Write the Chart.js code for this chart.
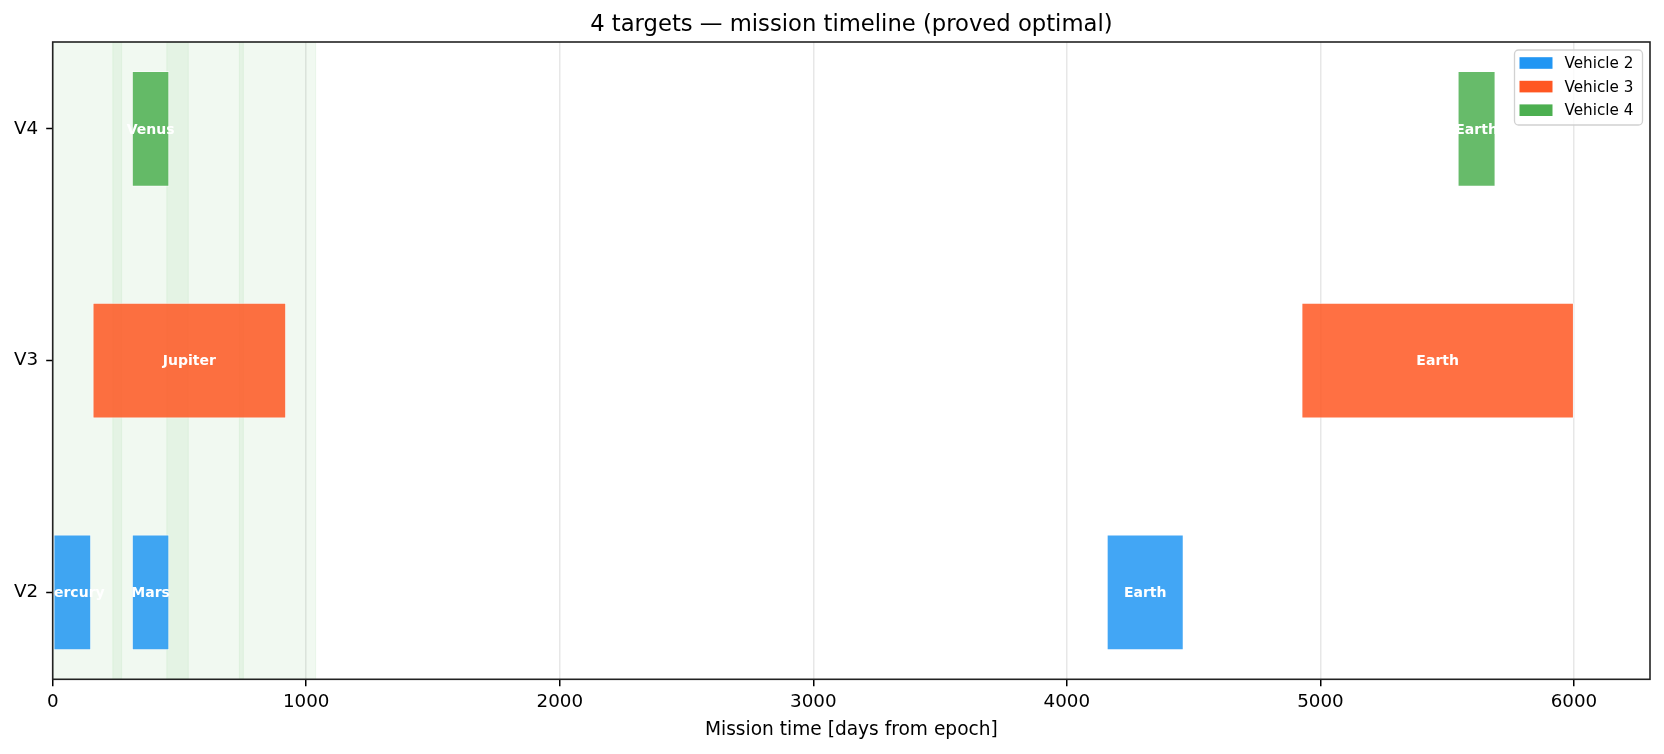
<!DOCTYPE html>
<html>
<head>
<meta charset="utf-8">
<script src="https://cdn.jsdelivr.net/npm/chart.js@4/dist/chart.umd.min.js"></script>
<style>
  html, body { margin: 0; padding: 0; background: #fff; }
  canvas { display: block; }
</style>
</head>
<body>
<canvas id="timeline" width="1664" height="754"></canvas>
<script>
// Rows (bottom to top) and vehicles
const rowLabels = ['V2', 'V3', 'V4'];
const vehicleNames = ['Vehicle 2', 'Vehicle 3', 'Vehicle 4'];
const vehicleColors = ['#2196F3', '#FF5722', '#4CAF50'];

// Visits per vehicle: start / end day and target name
const v2Starts = [0, 312, 4157];
const v2Ends = [152, 460, 4461];
const v2Targets = ['Mercury', 'Mars', 'Earth'];

const v3Starts = [157, 4925];
const v3Ends = [921, 6000];
const v3Targets = ['Jupiter', 'Earth'];

const v4Starts = [312, 5541];
const v4Ends = [460, 5691];
const v4Targets = ['Venus', 'Earth'];

// Launch windows (shaded green spans)
const windowStarts = [0, 237, 450, 736];
const windowEnds = [272, 535, 752, 1037];

// x axis
const xTicks = [0, 1000, 2000, 3000, 4000, 5000, 6000];
const xMax = 6300;

const chartTitle = '4 targets \u2014 mission timeline (proved optimal)';
const FONT = "'DejaVu Sans', 'Liberation Sans', sans-serif";

function toBars(starts, ends, row) {
    return starts.map((s, i) => ({ x: [s, ends[i]], y: row }));
}

function withAlpha(hex, a) {
    const n = parseInt(hex.slice(1), 16);
    return `rgba(${(n >> 16) & 255}, ${(n >> 8) & 255}, ${n & 255}, ${a})`;
}

const rows = [
    { starts: v2Starts, ends: v2Ends, targets: v2Targets },
    { starts: v3Starts, ends: v3Ends, targets: v3Targets },
    { starts: v4Starts, ends: v4Ends, targets: v4Targets }
];

const datasets = rows.map((r, i) => ({
    label: vehicleNames[i],
    data: toBars(r.starts, r.ends, i),
    targets: r.targets,
    backgroundColor: withAlpha(vehicleColors[i], 0.85),
    borderColor: 'rgba(255, 255, 255, 0.55)',
    borderWidth: 1,
    borderSkipped: false,
    grouped: false,
    barPercentage: 0.5,
    categoryPercentage: 1.0
}));

// Shaded windows under the bars
const windowsPlugin = {
    id: 'windows',
    beforeDatasetsDraw(chart) {
        const { ctx, chartArea, scales } = chart;
        ctx.save();
        ctx.beginPath();
        ctx.rect(chartArea.left, chartArea.top, chartArea.width, chartArea.height);
        ctx.clip();
        windowStarts.forEach((s, i) => {
            const x0 = scales.x.getPixelForValue(s);
            const x1 = scales.x.getPixelForValue(windowEnds[i]);
            ctx.fillStyle = withAlpha('#4CAF50', 0.08);
            ctx.fillRect(x0, chartArea.top, x1 - x0, chartArea.height);
            ctx.strokeStyle = withAlpha('#4CAF50', 0.08);
            ctx.lineWidth = 1;
            ctx.strokeRect(x0, chartArea.top, x1 - x0, chartArea.height);
        });
        ctx.restore();
    }
};

// Target names inside the bars
const barLabelsPlugin = {
    id: 'barLabels',
    afterDatasetsDraw(chart) {
        const { ctx, chartArea } = chart;
        ctx.save();
        ctx.beginPath();
        ctx.rect(chartArea.left, chartArea.top, chartArea.width, chartArea.height);
        ctx.clip();
        ctx.fillStyle = '#ffffff';
        ctx.font = `bold 14px ${FONT}`;
        ctx.textAlign = 'center';
        ctx.textBaseline = 'middle';
        chart.data.datasets.forEach((ds, di) => {
            chart.getDatasetMeta(di).data.forEach((bar, i) => {
                const cx = (bar.x + bar.base) / 2;
                ctx.fillText(ds.targets[i], cx, bar.y + 1);
            });
        });
        ctx.restore();
    }
};

// Axes frame, title centred over the axes, and legend box
const frameLegendPlugin = {
    id: 'frameLegend',
    afterDraw(chart) {
        const { ctx, chartArea } = chart;
        ctx.save();
        ctx.strokeStyle = '#222';
        ctx.lineWidth = 1.6;
        ctx.strokeRect(chartArea.left, chartArea.top, chartArea.width, chartArea.height);

        ctx.fillStyle = '#000';
        ctx.font = `22.7px ${FONT}`;
        ctx.textAlign = 'center';
        ctx.textBaseline = 'middle';
        ctx.fillText(chartTitle, (chartArea.left + chartArea.right) / 2, chartArea.top - 17);

        const boxW = 128, boxH = 75;
        const bx = chartArea.right - 7.5 - boxW;
        const by = chartArea.top + 8;
        ctx.beginPath();
        ctx.roundRect(bx, by, boxW, boxH, 4);
        ctx.fillStyle = 'rgba(255, 255, 255, 0.8)';
        ctx.fill();
        ctx.strokeStyle = 'rgba(204, 204, 204, 0.9)';
        ctx.lineWidth = 1.3;
        ctx.stroke();

        ctx.font = `15.2px ${FONT}`;
        ctx.textAlign = 'left';
        ctx.textBaseline = 'middle';
        vehicleNames.forEach((name, i) => {
            const cy = by + 13 + i * 23.6;
            ctx.fillStyle = vehicleColors[i];
            ctx.fillRect(bx + 5, cy - 5.8, 33, 11.6);
            ctx.fillStyle = '#000';
            ctx.fillText(name, bx + 50, cy + 1);
        });
        ctx.restore();
    }
};

new Chart(document.getElementById('timeline'), {
    type: 'bar',
    data: { datasets },
    plugins: [windowsPlugin, barLabelsPlugin, frameLegendPlugin],
    options: {
        indexAxis: 'y',
        responsive: false,
        devicePixelRatio: 1,
        animation: false,
        layout: { padding: { left: 0, right: 14, top: 42, bottom: 0 } },
        plugins: {
            legend: { display: false },
            tooltip: { enabled: false },
            title: { display: false }
        },
        scales: {
            x: {
                type: 'linear',
                min: 0,
                max: xMax,
                offset: false,
                border: { display: false },
                afterBuildTicks(scale) {
                    scale.ticks = xTicks.map(v => ({ value: v }));
                },
                grid: {
                    offset: false,
                    color: 'rgba(176, 176, 176, 0.3)',
                    lineWidth: 1.5,
                    tickColor: '#000',
                    tickLength: 7,
                    tickWidth: 1.5
                },
                ticks: {
                    color: '#000',
                    padding: 5,
                    autoSkip: false,
                    maxRotation: 0,
                    font: { family: FONT, size: 18.3 },
                    callback: (v) => String(v)
                },
                title: {
                    display: true,
                    text: 'Mission time [days from epoch]',
                    color: '#000',
                    font: { family: FONT, size: 18.6, lineHeight: 1.2 },
                    padding: { top: 0, bottom: 12.5 }
                },
                afterFit(scale) { scale.height = 74.7; }
            },
            y: {
                type: 'linear',
                min: -0.375,
                max: 2.375,
                offset: false,
                border: { display: false },
                afterBuildTicks(scale) {
                    scale.ticks = rowLabels.map((_, i) => ({ value: i }));
                },
                grid: {
                    offset: false,
                    drawOnChartArea: false,
                    tickColor: '#000',
                    tickLength: 6.5,
                    tickWidth: 1.5
                },
                ticks: {
                    color: '#000',
                    padding: 8,
                    autoSkip: false,
                    font: { family: FONT, size: 18.3 },
                    callback: (v) => rowLabels[v]
                },
                afterFit(scale) { scale.width = 52.7; }
            }
        }
    }
});
</script>
</body>
</html>
